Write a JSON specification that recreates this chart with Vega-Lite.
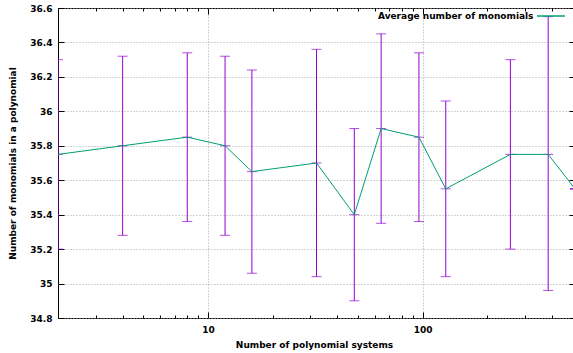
{
  "$schema": "https://vega.github.io/schema/vega-lite/v6.json",
  "width": 517,
  "height": 310,
  "autosize": {"type": "none"},
  "padding": {"left": 58, "top": 8, "right": 0, "bottom": 35},
  "config": {
    "view": {"stroke": "black", "strokeWidth": 1},
    "font": "DejaVu Sans",
    "axis": {
      "labelFont": "DejaVu Sans", "labelFontSize": 9, "labelFontWeight": "bold", "labelColor": "black",
      "titleFont": "DejaVu Sans", "titleFontSize": 9, "titleFontWeight": "bold", "titleColor": "black",
      "tickColor": "black", "domain": false, "labelOverlap": false, "labelBound": false, "labelFlush": false
    }
  },
  "data": {
    "values": [
      {"n": 2, "avg": 35.75, "lo": 35.2, "hi": 36.3},
      {"n": 4, "avg": 35.8, "lo": 35.28, "hi": 36.32},
      {"n": 8, "avg": 35.85, "lo": 35.36, "hi": 36.34},
      {"n": 12, "avg": 35.8, "lo": 35.28, "hi": 36.32},
      {"n": 16, "avg": 35.65, "lo": 35.06, "hi": 36.24},
      {"n": 32, "avg": 35.7, "lo": 35.04, "hi": 36.36},
      {"n": 48, "avg": 35.4, "lo": 34.9, "hi": 35.9},
      {"n": 64, "avg": 35.9, "lo": 35.35, "hi": 36.45},
      {"n": 96, "avg": 35.85, "lo": 35.36, "hi": 36.34},
      {"n": 128, "avg": 35.55, "lo": 35.04, "hi": 36.06},
      {"n": 256, "avg": 35.75, "lo": 35.2, "hi": 36.3},
      {"n": 384, "avg": 35.75, "lo": 34.96, "hi": 36.55},
      {"n": 512, "avg": 35.55, "lo": 35.55, "hi": 35.55}
    ]
  },
  "layer": [
    {
      "mark": {"type": "rule", "color": "#9400d3", "strokeWidth": 1, "clip": true},
      "encoding": {
        "x": {
          "field": "n", "type": "quantitative",
          "scale": {"type": "log", "domain": [2, 512], "nice": false},
          "axis": {
            "orient": "bottom", "values": [10, 100], "format": "~g",
            "tickSize": -6, "labelPadding": 13,
            "grid": true, "gridDash": [1, 2], "gridColor": "#a8a8a8", "gridWidth": 1,
            "title": "Number of polynomial systems", "titlePadding": 6, "titleX": 256
          }
        },
        "y": {
          "field": "lo", "type": "quantitative",
          "scale": {"domain": [34.8, 36.6], "nice": false, "zero": false},
          "axis": {
            "orient": "left",
            "values": [34.8, 35, 35.2, 35.4, 35.6, 35.8, 36, 36.2, 36.4, 36.6],
            "format": "~g", "tickSize": -6, "labelPadding": 12,
            "grid": true, "gridDash": [1, 2], "gridColor": "#a8a8a8", "gridWidth": 1,
            "title": "Number of monomials in a polynomial", "titlePadding": 12
          }
        },
        "y2": {"field": "hi"}
      }
    },
    {
      "mark": {"type": "tick", "orient": "horizontal", "color": "#9400d3", "size": 10, "thickness": 1, "clip": true},
      "encoding": {
        "x": {
          "field": "n", "type": "quantitative",
          "scale": {"type": "log", "domain": [2, 512], "nice": false},
          "axis": {
            "orient": "bottom", "values": [2, 3, 4, 5, 6, 7, 8, 9, 20, 30, 40, 50, 60, 70, 80, 90, 200, 300, 400, 500],
            "tickSize": -3, "labels": false, "grid": false, "title": null
          }
        },
        "y": {
          "field": "lo", "type": "quantitative",
          "scale": {"domain": [34.8, 36.6], "nice": false, "zero": false},
          "axis": {
            "orient": "right",
            "values": [34.8, 35, 35.2, 35.4, 35.6, 35.8, 36, 36.2, 36.4, 36.6],
            "tickSize": -6, "labels": false, "grid": false, "title": null
          }
        }
      }
    },
    {
      "mark": {"type": "tick", "orient": "horizontal", "color": "#9400d3", "size": 10, "thickness": 1, "clip": true},
      "encoding": {
        "x": {
          "field": "n", "type": "quantitative",
          "scale": {"type": "log", "domain": [2, 512], "nice": false},
          "axis": {
            "orient": "top", "values": [10, 100],
            "tickSize": -6, "labels": false, "grid": false, "title": null
          }
        },
        "y": {
          "field": "hi", "type": "quantitative",
          "scale": {"domain": [34.8, 36.6], "nice": false, "zero": false},
          "axis": null
        }
      }
    },
    {
      "mark": {"type": "tick", "orient": "horizontal", "color": "#9400d3", "size": 10, "thickness": 1, "clip": true},
      "encoding": {
        "x": {
          "field": "n", "type": "quantitative",
          "scale": {"type": "log", "domain": [2, 512], "nice": false},
          "axis": {
            "orient": "top", "values": [2, 3, 4, 5, 6, 7, 8, 9, 20, 30, 40, 50, 60, 70, 80, 90, 200, 300, 400, 500],
            "tickSize": -3, "labels": false, "grid": false, "title": null
          }
        },
        "y": {
          "field": "avg", "type": "quantitative",
          "scale": {"domain": [34.8, 36.6], "nice": false, "zero": false},
          "axis": null
        }
      }
    },
    {
      "mark": {"type": "line", "strokeWidth": 1, "clip": true},
      "encoding": {
        "x": {
          "field": "n", "type": "quantitative",
          "scale": {"type": "log", "domain": [2, 512], "nice": false},
          "axis": null
        },
        "y": {
          "field": "avg", "type": "quantitative",
          "scale": {"domain": [34.8, 36.6], "nice": false, "zero": false},
          "axis": null
        },
        "color": {
          "datum": "Average number of monomials", "type": "nominal",
          "scale": {"range": ["#009e73"]},
          "legend": {
            "orient": "none", "legendX": 319, "legendY": -7, "title": null, "padding": 0,
            "symbolType": "stroke", "symbolSize": 784, "symbolStrokeWidth": 1.5,
            "labelFont": "DejaVu Sans", "labelFontSize": 9, "labelFontWeight": "bold", "labelColor": "black",
            "labelOffset": -188, "symbolOffset": 159
          }
        }
      }
    }
  ],
  "resolve": {"axis": {"x": "independent", "y": "independent"}}
}
